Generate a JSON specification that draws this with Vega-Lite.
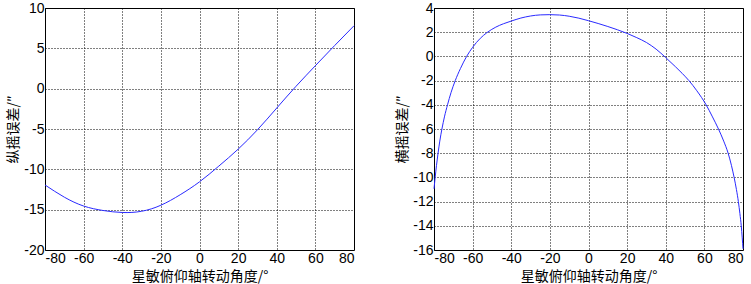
{
  "$schema": "https://vega.github.io/schema/vega-lite/v6.json",
  "padding": {"left": 6, "top": 0, "right": 0, "bottom": 0},
  "background": "white",
  "datasets": {
    "pitch": [
      {"angle": -80, "err": -11.94},
      {"angle": -70, "err": -13.45},
      {"angle": -60, "err": -14.55},
      {"angle": -50, "err": -15.1},
      {"angle": -40, "err": -15.35},
      {"angle": -30, "err": -15.2},
      {"angle": -20, "err": -14.45},
      {"angle": -10, "err": -13.15},
      {"angle": 0, "err": -11.55},
      {"angle": 10, "err": -9.6},
      {"angle": 20, "err": -7.5},
      {"angle": 30, "err": -5.1},
      {"angle": 40, "err": -2.4},
      {"angle": 50, "err": 0.3},
      {"angle": 60, "err": 2.85},
      {"angle": 70, "err": 5.35},
      {"angle": 80, "err": 7.8}
    ],
    "roll": [
      {"angle": -80, "err": -10.94},
      {"angle": -79.4, "err": -10},
      {"angle": -78.7, "err": -9},
      {"angle": -77.9, "err": -8},
      {"angle": -77, "err": -7},
      {"angle": -75.9, "err": -6},
      {"angle": -74.6, "err": -5},
      {"angle": -73, "err": -4},
      {"angle": -71.2, "err": -3},
      {"angle": -69, "err": -2},
      {"angle": -66.3, "err": -1},
      {"angle": -63.1, "err": 0},
      {"angle": -60, "err": 0.75},
      {"angle": -56, "err": 1.5},
      {"angle": -52.7, "err": 1.95},
      {"angle": -48, "err": 2.42},
      {"angle": -44, "err": 2.7},
      {"angle": -40, "err": 2.92},
      {"angle": -35, "err": 3.17},
      {"angle": -30, "err": 3.34},
      {"angle": -25, "err": 3.43},
      {"angle": -20, "err": 3.45},
      {"angle": -15, "err": 3.42},
      {"angle": -10, "err": 3.32},
      {"angle": -5, "err": 3.16},
      {"angle": 0, "err": 2.95},
      {"angle": 5, "err": 2.72},
      {"angle": 10, "err": 2.47},
      {"angle": 15, "err": 2.2},
      {"angle": 20, "err": 1.9},
      {"angle": 25, "err": 1.55},
      {"angle": 30, "err": 1.15},
      {"angle": 35, "err": 0.6},
      {"angle": 40, "err": -0.1},
      {"angle": 45, "err": -0.85},
      {"angle": 48.5, "err": -1.4},
      {"angle": 52, "err": -2},
      {"angle": 56.1, "err": -2.84},
      {"angle": 60.9, "err": -4},
      {"angle": 64.2, "err": -5},
      {"angle": 67.3, "err": -6},
      {"angle": 70, "err": -7},
      {"angle": 72.3, "err": -8},
      {"angle": 74, "err": -9},
      {"angle": 75.4, "err": -10},
      {"angle": 76.6, "err": -11},
      {"angle": 77.6, "err": -12},
      {"angle": 78.4, "err": -13},
      {"angle": 79.1, "err": -14},
      {"angle": 79.6, "err": -15},
      {"angle": 80, "err": -15.9}
    ]
  },
  "config": {
    "view": {"stroke": "black", "strokeWidth": 1},
    "font": "Liberation Sans",
    "axis": {
      "grid": true,
      "gridColor": "black",
      "gridDash": [1, 2],
      "gridOpacity": 1,
      "gridWidth": 1,
      "domain": false,
      "ticks": false,
      "labelFont": "Liberation Sans",
      "labelFontSize": 14,
      "labelColor": "black",
      "labelPadding": 1,
      "labelExpr": "'' + datum.value",
      "titleFont": "Noto Sans CJK SC",
      "titleFontSize": 14,
      "titleFontWeight": "normal",
      "titleColor": "black"
    }
  },
  "spacing": 38,
  "hconcat": [
    {
      "width": 309,
      "height": 242,
      "data": {"name": "pitch"},
      "mark": {"type": "line", "color": "#2a2aff", "strokeWidth": 1, "interpolate": "natural"},
      "encoding": {
        "x": {"field": "angle", "type": "quantitative",
              "scale": {"domain": [-80, 80], "nice": false, "zero": false},
              "axis": {"values": [-80, -60, -40, -20, 0, 20, 40, 60, 80], "title": "星敏俯仰轴转动角度/°", "titlePadding": 4}},
        "y": {"field": "err", "type": "quantitative",
              "scale": {"domain": [-20, 10], "nice": false, "zero": false},
              "axis": {"values": [-20, -15, -10, -5, 0, 5, 10], "title": "纵摇误差/″", "titlePadding": 3}}
      }
    },
    {
      "width": 309,
      "height": 242,
      "data": {"name": "roll"},
      "mark": {"type": "line", "color": "#2a2aff", "strokeWidth": 1, "interpolate": "monotone"},
      "encoding": {
        "x": {"field": "angle", "type": "quantitative",
              "scale": {"domain": [-80, 80], "nice": false, "zero": false},
              "axis": {"values": [-80, -60, -40, -20, 0, 20, 40, 60, 80], "title": "星敏俯仰轴转动角度/°", "titlePadding": 4}},
        "y": {"field": "err", "type": "quantitative",
              "scale": {"domain": [-16, 4], "nice": false, "zero": false},
              "axis": {"values": [-16, -14, -12, -10, -8, -6, -4, -2, 0, 2, 4], "title": "横摇误差/″", "titlePadding": 3}}
      }
    }
  ]
}
